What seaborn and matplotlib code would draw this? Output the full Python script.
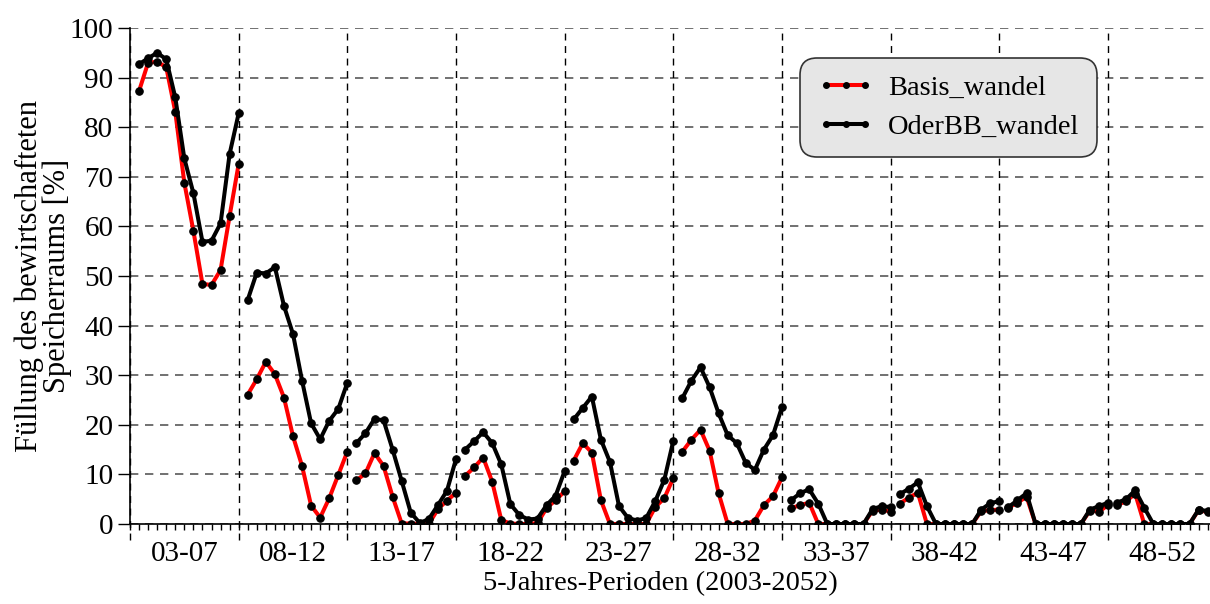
import pandas as pd
import numpy as np
import seaborn as sns
from matplotlib import pyplot as plt
from matplotlib.lines import Line2D

# 5-year periods, 12 monthly values each
periods = ["03-07", "08-12", "13-17", "18-22", "23-27",
           "28-32", "33-37", "38-42", "43-47", "48-52"]

basis_wandel = [
    87.3, 93.0, 93.2, 92.1, 83.1, 68.8, 59.1, 48.4, 48.2, 51.2, 62.1, 72.6,  # 03-07
    26.1, 29.2, 32.7, 30.2, 25.5, 17.7, 11.7, 3.7, 1.3, 5.2, 9.9, 14.6,      # 08-12
    8.8, 10.2, 14.3, 11.7, 5.5, 0.1, 0.1, 0.0, 0.0, 3.0, 4.7, 6.3,           # 13-17
    9.7, 11.4, 13.4, 8.5, 0.8, 0.1, 0.0, 0.0, 0.2, 3.2, 4.8, 6.6,            # 18-22
    12.8, 16.3, 14.4, 4.8, 0.0, 0.0, 0.0, 0.0, 0.0, 3.4, 5.2, 9.3,           # 23-27
    14.6, 17.0, 19.0, 14.8, 6.2, 0.0, 0.0, 0.0, 0.7, 3.8, 5.6, 9.4,          # 28-32
    3.2, 3.8, 4.3, 0.0, 0.0, 0.0, 0.0, 0.0, 0.0, 2.7, 2.9, 2.5,              # 33-37
    4.1, 5.3, 6.3, 0.0, 0.0, 0.0, 0.0, 0.0, 0.0, 2.6, 2.8, 2.9,              # 38-42
    3.3, 4.3, 5.5, 0.0, 0.0, 0.0, 0.0, 0.0, 0.0, 2.7, 2.5, 3.8,              # 43-47
    3.8, 4.6, 6.1, 0.0, 0.0, 0.0, 0.0, 0.0, 0.0, 2.8, 2.4, 2.4,              # 48-52
]

oderbb_wandel = [
    92.7, 93.9, 95.0, 93.7, 86.0, 73.7, 66.7, 56.9, 57.1, 60.6, 74.6, 82.8,  # 03-07
    45.2, 50.7, 50.5, 51.8, 44.0, 38.3, 28.9, 20.3, 17.1, 20.8, 23.2, 28.5,  # 08-12
    16.3, 18.3, 21.2, 20.9, 15.0, 8.7, 2.3, 0.2, 1.0, 3.8, 6.7, 13.1,        # 13-17
    15.0, 16.7, 18.5, 16.3, 12.0, 4.0, 1.8, 0.9, 1.1, 3.8, 5.7, 10.7,        # 18-22
    21.1, 23.4, 25.7, 17.0, 12.5, 3.6, 1.2, 0.7, 1.2, 4.6, 8.9, 16.8,        # 23-27
    25.4, 28.9, 31.6, 27.6, 22.3, 17.9, 16.3, 12.3, 10.9, 15.0, 17.9, 23.6,  # 28-32
    4.8, 6.2, 7.0, 4.1, 0.0, 0.0, 0.0, 0.0, 0.0, 3.0, 3.6, 3.4,              # 33-37
    6.0, 7.1, 8.4, 3.6, 0.0, 0.0, 0.0, 0.0, 0.0, 2.9, 4.2, 4.6,              # 38-42
    3.4, 4.8, 6.2, 0.0, 0.0, 0.0, 0.0, 0.0, 0.0, 2.9, 3.6, 4.3,              # 43-47
    4.3, 5.0, 6.8, 3.3, 0.0, 0.0, 0.0, 0.0, 0.0, 2.9, 2.6, 2.5,              # 48-52
]

series_names = ["Basis_wandel", "OderBB_wandel"]
colors = {"Basis_wandel": "red", "OderBB_wandel": "black"}

# long format, one row per month and scenario
rows = []
for name, vals in zip(series_names, [basis_wandel, oderbb_wandel]):
    for i, v in enumerate(vals):
        rows.append({"series": name, "period": i // 12, "pos": i + 1, "value": v})
df = pd.DataFrame(rows)

sns.set_style("white")
plt.rcParams["font.family"] = ["Liberation Serif", "DejaVu Serif"]
for key in ["text.color", "axes.labelcolor", "xtick.color", "ytick.color"]:
    plt.rcParams[key] = "black"

fig = plt.figure(figsize=(12.1, 6.04), dpi=100)
ax = fig.add_axes([130 / 1210, 80 / 604, 1086.7 / 1210, 496 / 604])

sns.lineplot(
    data=df, x="pos", y="value", hue="series", units="period", estimator=None,
    hue_order=series_names, palette=colors, linewidth=2.9,
    marker="o", markersize=5.4, markerfacecolor="black", markeredgecolor="black",
    legend=False, ax=ax,
)

ax.set_xlim(0, 120)
ax.set_ylim(0, 100)

# grid
ax.set_yticks(range(0, 101, 10))
ax.yaxis.grid(True, color="0.35", linestyle=(0, (5, 4)), linewidth=1.2)
for b in range(0, 121, 12):
    ax.axvline(b, ymin=-0.032, ymax=1, color="black", linestyle=(0, (5, 4)),
               linewidth=1, clip_on=False, zorder=1)

# x ticks: labels at period centres, small ticks every month
ax.xaxis.remove_overlapping_locs = False
ax.set_xticks([p * 12 + 6 for p in range(10)])
ax.set_xticklabels(periods)
ax.set_xticks(range(0, 121), minor=True)
ax.tick_params(axis="x", which="major", length=0, pad=12, labelsize=21)
ax.tick_params(axis="x", which="minor", direction="out", length=4, width=1,
               color="black", bottom=True)
ax.tick_params(axis="y", direction="out", length=9, width=1, color="black",
               labelsize=21, pad=3, left=True)

for s in ["top", "right"]:
    ax.spines[s].set_visible(False)
for s in ["left", "bottom"]:
    ax.spines[s].set_color("black")
    ax.spines[s].set_linewidth(1.2)

ax.set_ylabel("Füllung des bewirtschafteten\nSpeicherraums [%]", fontsize=22,
              linespacing=0.95)
ax.yaxis.set_label_coords(-0.053, 0.5)
ax.set_xlabel("5-Jahres-Perioden (2003-2052)", fontsize=20.5)
ax.xaxis.set_label_coords(0.488, -0.095)

handles = [
    Line2D([], [], color=colors[n], linewidth=2.9, marker="o", markersize=4,
           markerfacecolor="black", markeredgecolor="black")
    for n in series_names
]
leg = ax.legend(
    handles, series_names, loc="upper left",
    bbox_to_anchor=(800 / 1210, 1 - 58 / 604), bbox_transform=fig.transFigure,
    borderaxespad=0, numpoints=3, fontsize=20.5, fancybox=True,
    facecolor="#e6e6e6", edgecolor="#333333", framealpha=1, handlelength=2.0,
    borderpad=0.6, labelspacing=0.45, handletextpad=0.5,
)
leg.get_frame().set_linewidth(1.2)
leg.get_frame().set_boxstyle("round,pad=0,rounding_size=0.6")

plt.savefig("out.png", dpi=100)
